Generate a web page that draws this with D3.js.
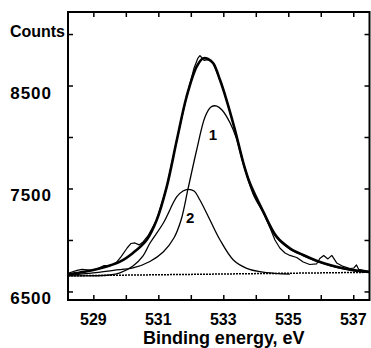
<!DOCTYPE html>
<html>
<head>
<meta charset="utf-8">
<script src="https://cdn.jsdelivr.net/npm/d3@7"></script>
<style>
    body { margin: 0; background: #fff; }
    text { font-family: "Liberation Sans", Arial, sans-serif; font-weight: bold; fill: #000; }
</style>
</head>
<body>
<div id="visualization"></div>
<script>
// tick values and labels
const xTicks = [529, 530, 531, 532, 533, 534, 535, 536, 537];
const xTickLabels = [529, 531, 533, 535, 537];
const yTicks = [6500, 7000, 7500, 8000, 8500, 9000];
const yTickLabels = [6500, 7500, 8500];

// measured spectrum (noisy trace)
const dataEnergy = [528.22, 528.34, 528.50, 528.65, 528.81, 528.96, 529.14, 529.33, 529.51, 529.70,
    529.85, 530.04, 530.16, 530.28, 530.41, 530.53, 530.68, 530.95, 531.26, 531.57,
    531.87, 532.10, 532.22, 532.28, 532.35, 532.41, 532.53, 532.69, 532.90, 533.10,
    533.36, 533.62, 533.92, 534.23, 534.44, 534.59, 534.74, 534.90, 535.05, 535.26,
    535.46, 535.66, 535.87, 535.97, 536.09, 536.22, 536.34, 536.49, 536.69, 536.90,
    537.02, 537.10, 537.17, 537.33, 537.51];
const dataCounts = [6675, 6689, 6704, 6714, 6709, 6704, 6723, 6752, 6748, 6777,
    6835, 6922, 6966, 6971, 6952, 6981, 7039, 7194, 7518, 7971,
    8391, 8670, 8767, 8791, 8767, 8743, 8752, 8716, 8553, 8359,
    8068, 7745, 7453, 7272, 7117, 7000, 6922, 6874, 6850, 6830,
    6786, 6762, 6767, 6820, 6850, 6816, 6850, 6777, 6743, 6723,
    6728, 6757, 6714, 6704, 6694];

// fitted envelope (sum)
const envelopeEnergy = [528.22, 528.59, 529.00, 529.41, 529.82, 530.22, 530.64, 530.95, 531.26, 531.57,
    531.87, 532.18, 532.38, 532.53, 532.69, 532.90, 533.10, 533.36, 533.62, 533.82,
    534.23, 534.64, 535.05, 535.46, 535.87, 536.28, 536.69, 537.10, 537.51];
const envelopeCounts = [6665, 6684, 6709, 6743, 6789, 6874, 7000, 7194, 7518, 7971,
    8391, 8683, 8764, 8757, 8716, 8553, 8359, 8068, 7745, 7550,
    7275, 7032, 6919, 6854, 6799, 6757, 6725, 6702, 6689];

// component 1
const peak1Energy = [528.22, 529.00, 529.62, 530.22, 530.74, 531.15, 531.48, 531.70, 531.92, 532.18,
    532.44, 532.62, 532.80, 532.96, 533.21, 533.40, 533.62, 533.92, 534.23, 534.64,
    535.05, 535.46, 535.87, 536.28, 536.69, 537.10, 537.51];
const peak1Counts = [6655, 6680, 6705, 6728, 6791, 6883, 7019, 7194, 7505, 7874,
    8197, 8291, 8301, 8262, 8136, 7990, 7735, 7445, 7265, 7025,
    6912, 6848, 6794, 6752, 6720, 6698, 6686];

// component 2
const peak2Energy = [528.22, 529.50, 529.82, 530.22, 530.53, 530.74, 531.15, 531.57, 531.76, 531.92,
    532.10, 532.28, 532.59, 532.90, 533.31, 533.72, 534.13, 534.59, 535.05];
const peak2Counts = [6652, 6660, 6680, 6747, 6845, 6968, 7162, 7420, 7476, 7492,
    7476, 7388, 7194, 7000, 6806, 6725, 6692, 6675, 6668];

// background line
const backgroundEnergy = [528.22, 537.51];
const backgroundCounts = [6652, 6686];

// peak numbers and where they sit
const peakLabels = ["1", "2"];
const peakLabelEnergy = [532.68, 531.98];
const peakLabelCounts = [8030, 7226];

/** draws the spectrum */
class SpectrumChart {
    constructor(parentId) {
        this.width = 371;
        this.height = 348;
        this.margin = { top: 12, right: 1.5, bottom: 48, left: 68 };

        this.svg = d3.select(`#${parentId}`)
            .append("svg")
                .attr("width", this.width)
                .attr("height", this.height);

        //scales
        this.x = d3.scaleLinear()
            .domain([528.22, 537.5])
            .range([this.margin.left, this.width - this.margin.right]);
        this.y = d3.scaleLinear()
            .domain([6417, 9214])
            .range([this.height - this.margin.bottom, this.margin.top]);
    }

    draw() {
        const x = this.x, y = this.y;
        const plotLeft = this.margin.left, plotRight = this.width - this.margin.right;
        const plotTop = this.margin.top, plotBottom = this.height - this.margin.bottom;

        //axes with inward ticks on all four sides
        const axes = [
            { axis: d3.axisBottom(x), pos: `translate(0,${plotBottom})`, ticks: xTicks },
            { axis: d3.axisTop(x), pos: `translate(0,${plotTop})`, ticks: xTicks },
            { axis: d3.axisLeft(y), pos: `translate(${plotLeft},0)`, ticks: yTicks },
            { axis: d3.axisRight(y), pos: `translate(${plotRight},0)`, ticks: yTicks }
        ];
        axes.forEach(a => {
            const g = this.svg.append("g")
                .attr("transform", a.pos)
                .call(a.axis.tickValues(a.ticks).tickSizeInner(-5).tickSizeOuter(0).tickFormat(""));
            g.select(".domain").remove();
            g.selectAll(".tick line").attr("stroke", "#000").attr("stroke-width", 1.5);
        });

        //frame
        this.svg.append("rect")
            .attr("x", plotLeft)
            .attr("y", plotTop)
            .attr("width", plotRight - plotLeft)
            .attr("height", plotBottom - plotTop)
            .attr("fill", "none")
            .attr("stroke", "#000")
            .attr("stroke-width", 2);

        //tick labels
        this.svg.append("g").selectAll("text")
            .data(xTickLabels)
            .join("text")
                .attr("x", d => x(d))
                .attr("y", 325)
                .attr("text-anchor", "middle")
                .attr("font-size", 16)
                .text(d => d);

        this.svg.append("g").selectAll("text")
            .data(yTickLabels)
            .join("text")
                .attr("x", 52)
                .attr("y", d => y(d) + 13)
                .attr("text-anchor", "end")
                .attr("font-size", 17)
                .attr("letter-spacing", 1)
                .text(d => d);

        this.svg.append("text")
            .attr("x", 65)
            .attr("y", 37)
            .attr("text-anchor", "end")
            .attr("font-size", 16)
            .text("Counts");

        this.svg.append("text")
            .attr("x", (plotLeft + plotRight) / 2 + 5)
            .attr("y", 344)
            .attr("text-anchor", "middle")
            .attr("font-size", 18)
            .text("Binding energy, eV");

        //curves
        const smooth = d3.line()
            .x(d => x(d[0]))
            .y(d => y(d[1]))
            .curve(d3.curveCatmullRom.alpha(0.5));
        const rough = d3.line()
            .x(d => x(d[0]))
            .y(d => y(d[1]));

        const zip = (a, b) => a.map((v, i) => [v, b[i]]);

        const plot = this.svg.append("g").attr("fill", "none").attr("stroke", "#000");

        plot.append("path")
            .attr("d", rough(zip(backgroundEnergy, backgroundCounts)))
            .attr("stroke-width", 1.5)
            .attr("stroke-dasharray", "2,1");

        plot.append("path")
            .attr("d", smooth(zip(peak2Energy, peak2Counts)))
            .attr("stroke-width", 1.3);

        plot.append("path")
            .attr("d", smooth(zip(peak1Energy, peak1Counts)))
            .attr("stroke-width", 1.3);

        plot.append("path")
            .attr("d", rough(zip(dataEnergy, dataCounts)))
            .attr("stroke-width", 1.2)
            .attr("stroke-linejoin", "round");

        plot.append("path")
            .attr("d", smooth(zip(envelopeEnergy, envelopeCounts)))
            .attr("stroke-width", 2.6);

        //peak labels
        this.svg.append("g").selectAll("text")
            .data(peakLabels)
            .join("text")
                .attr("x", (d, i) => x(peakLabelEnergy[i]))
                .attr("y", (d, i) => y(peakLabelCounts[i]) + 6)
                .attr("text-anchor", "middle")
                .attr("font-size", 15)
                .text(d => d);
    }
}

new SpectrumChart("visualization").draw();
</script>
</body>
</html>
